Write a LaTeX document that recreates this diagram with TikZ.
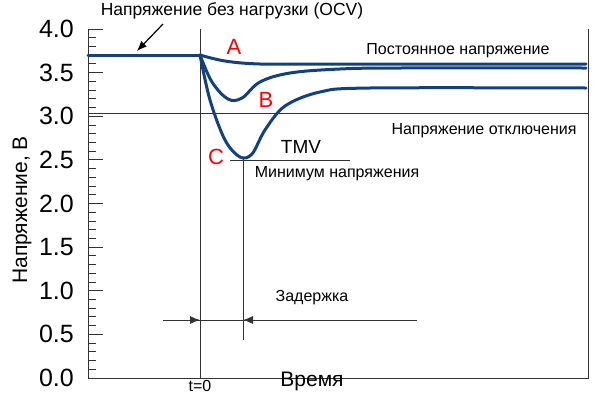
\documentclass[tikz,border=0pt]{standalone}
\usepackage{fontspec}
\setmainfont{Liberation Sans}
\usetikzlibrary{arrows.meta}
\begin{document}
\begin{tikzpicture}[x=1pt,y=-1pt,
 curve/.style={line width=3pt,color={rgb,255:red,20;green,65;blue,125},line cap=round},
 thin/.style={line width=0.9pt,color=black!80},
 lbl/.style={font=\fontsize{16}{18}\selectfont,inner sep=0},
 red/.style={font=\fontsize{22}{24}\selectfont,text=red,inner sep=0}]
\useasboundingbox (0,0) rectangle (600,400);
% axes
\draw[thin] (88,29) -- (88,378) -- (588,378) -- (588,29);
\foreach \i in {0,...,40}{
  \draw[thin] (88,{378-\i*8.725}) -- (96,{378-\i*8.725});}
\foreach \i in {0,...,8}{
  \draw[thin] (88,{378-\i*43.625}) -- (103,{378-\i*43.625});}
\foreach \v in {0.0,0.5,1.0,1.5,2.0,2.5,3.0,3.5,4.0}{
  \node[font=\fontsize{25}{27}\selectfont,anchor=east,inner sep=0] (t\v) at (74,{378-\v*87.25}) {\v};}
\node[rotate=90,font=\fontsize{21}{23}\selectfont] (ylab) at (22,210) {Напряжение, В};
\node[font=\fontsize{21}{23}\selectfont] (xlab) at (312,381) {Время};
\node[lbl] (t0) at (200,386) {t=0};
% lines
\draw[thin] (200,29) -- (200,378);
\draw[thin] (88,113) -- (588,113);
\draw[thin] (230,160) -- (350,160);
\draw[thin] (243,157) -- (243,340);
% curves
\draw[curve] (88,55) -- (200,55);
\draw[curve] plot[smooth,tension=0.6] coordinates {(200,55) (225,61) (260,64) (320,64) (586,64)};
\draw[curve] plot[smooth,tension=0.6] coordinates {(200,55) (212,82) (228,99) (242,98) (260,82) (290,73) (340,69) (400,68) (586,68)};
\draw[curve] plot[smooth,tension=0.55] coordinates {(200,55) (210,100) (225,140) (240,157) (252,154) (265,130) (285,106) (320,92) (370,88) (586,88)};
% delay arrows
\coordinate (da) at (163,320); \coordinate (db) at (417,320);
\draw[thin] (da) -- (db);
\draw[thin,-{Latex[length=10pt,width=8pt]}] (185,320) -- (200,320);
\draw[thin,-{Latex[length=10pt,width=8pt]}] (258,320) -- (243,320);
\node[lbl] (zad) at (312,298) {Задержка};
% labels
\node[lbl,font=\fontsize{17.5}{19}\selectfont] (ocv) at (232,11) {Напряжение без нагрузки (OCV)};
\coordinate (ocvs) at (163,24); \coordinate (ocve) at (137,51);
\draw[line width=1.2pt,-{Latex[length=10pt,width=8pt]}] (ocvs) -- (ocve);
\node[lbl] (pn) at (458,51) {Постоянное напряжение};
\node[lbl] (no) at (484,131) {Напряжение отключения};
\node[lbl,font=\fontsize{19}{21}\selectfont] (tmv) at (301,147) {TMV};
\node[lbl] (mn) at (337,174) {Минимум напряжения};
\node[red] (A) at (234,47) {A};
\node[red] (B) at (266,100) {B};
\node[red] (C) at (216,157) {C};
\end{tikzpicture}
\end{document}
